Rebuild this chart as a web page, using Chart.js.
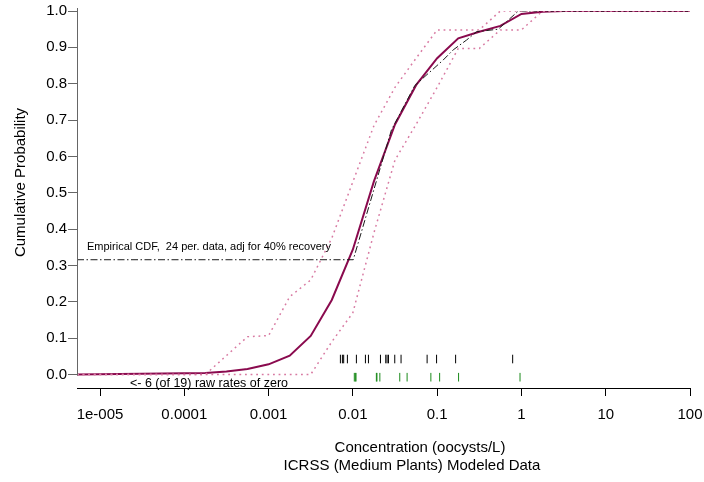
<!DOCTYPE html>
<html>
<head>
<meta charset="utf-8">
<script src="https://cdn.jsdelivr.net/npm/chart.js@4/dist/chart.umd.min.js"></script>
<style>
  body { margin: 0; background: #fff; }
  canvas { display: block; }
</style>
</head>
<body>
<canvas id="cdfChart" width="704" height="482"></canvas>
<script>
const FONT = '"Liberation Sans", Arial, Helvetica, sans-serif';

// concentration axis (oocysts/L)
const xMin = 5.33e-6;
const xMax = 100;
const xTicks = [1e-5, 1e-4, 1e-3, 1e-2, 1e-1, 1, 10, 100];
const xTickLabels = ['1e-005', '0.0001', '0.001', '0.01', '0.1', '1', '10', '100'];
const yTicks = [0, 0.1, 0.2, 0.3, 0.4, 0.5, 0.6, 0.7, 0.8, 0.9, 1.0];

// fitted CDF
const fitConc = [5.33e-6, 1.78e-4, 3.16e-4, 5.62e-4, 0.001, 0.00178, 0.00316, 0.00562, 0.01, 0.0178, 0.0316, 0.0562, 0.1, 0.178, 0.316, 0.562, 1, 1.78, 3.16, 100];
const fitProb = [0, 0.004, 0.008, 0.015, 0.028, 0.052, 0.106, 0.205, 0.344, 0.532, 0.688, 0.796, 0.87, 0.925, 0.943, 0.959, 0.992, 0.998, 1.0, 1.0];

// upper and lower bounds
const upperConc = [5.33e-6, 1.78e-4, 3.16e-4, 5.62e-4, 0.001, 0.00178, 0.00316, 0.00562, 0.01, 0.0178, 0.0316, 0.0562, 0.1, 0.178, 0.316, 0.562, 100];
const upperProb = [0, 0, 0.052, 0.104, 0.107, 0.214, 0.26, 0.375, 0.53, 0.685, 0.79, 0.87, 0.948, 0.948, 0.948, 1.0, 1.0];
const lowerConc = [5.33e-6, 0.00316, 0.00562, 0.01, 0.0178, 0.0316, 0.0562, 0.1, 0.178, 0.316, 0.562, 1, 1.78, 100];
const lowerProb = [0, 0, 0.09, 0.17, 0.39, 0.59, 0.688, 0.79, 0.897, 0.897, 0.948, 0.948, 1.0, 1.0];

// empirical CDF, 6 of 19 rates are zero
const zeroCount = 6;
const rateCount = 19;
const ecdfConc = [5.33e-6, 0.0101, 0.0287, 0.0543, 0.1178, 0.155, 0.223, 0.294, 0.531, 0.918, 100];
const ecdfProb = [zeroCount / rateCount, zeroCount / rateCount, 0.673, 0.795, 0.865, 0.893, 0.92, 0.943, 0.95, 1.0, 1.0];

// raw nonzero rates and recovery-adjusted rates
const rawRates = [0.00711, 0.00751, 0.00778, 0.00861, 0.01101, 0.01409, 0.0153, 0.02125, 0.02455, 0.02545, 0.02645, 0.0314, 0.0373, 0.076, 0.0984, 0.1656, 0.787];
const adjRates = [0.0104, 0.0107, 0.0109, 0.019, 0.0193, 0.0209, 0.036, 0.044, 0.0842, 0.107, 0.1795, 0.962];

const RAW_RUG_LEVEL = 0.0426;
const ADJ_RUG_LEVEL = -0.0074;

function pairs(xs, ys) {
    return xs.map((x, i) => ({ x: x, y: ys[i] }));
}

function rug(xs, level) {
    return xs.map(x => ({ x: x, y: level }));
}

const curveBase = { showLine: true, pointRadius: 0, pointHoverRadius: 0, tension: 0, fill: false };
const rugBase = { showLine: false, pointStyle: 'line', rotation: 90, pointRadius: 4.3, borderWidth: 1 };

const data = {
    datasets: [
        Object.assign({}, curveBase, {
            label: 'Upper',
            data: pairs(upperConc, upperProb),
            borderColor: '#d87aa2',
            borderWidth: 1.5,
            borderDash: [1.8, 3.8]
        }),
        Object.assign({}, curveBase, {
            label: 'Lower',
            data: pairs(lowerConc, lowerProb),
            borderColor: '#d87aa2',
            borderWidth: 1.5,
            borderDash: [1.8, 3.8]
        }),
        Object.assign({}, curveBase, {
            label: 'Empirical CDF',
            data: pairs(ecdfConc, ecdfProb),
            borderColor: '#1a1a1a',
            borderWidth: 1,
            borderDash: [7, 2.5, 1.5, 2.5]
        }),
        Object.assign({}, curveBase, {
            label: 'Fitted',
            data: pairs(fitConc, fitProb),
            borderColor: '#8a0a4e',
            borderWidth: 2
        }),
        Object.assign({}, rugBase, {
            label: 'Raw rates',
            data: rug(rawRates, RAW_RUG_LEVEL),
            borderColor: '#000'
        }),
        Object.assign({}, rugBase, {
            label: 'Adjusted rates',
            data: rug(adjRates, ADJ_RUG_LEVEL),
            borderColor: '#1a8a1a'
        })
    ]
};

// y axis line, notes and the axis titles
const decorations = {
    id: 'decorations',
    afterDraw(chart) {
        const ctx = chart.ctx;
        const area = chart.chartArea;
        const y = chart.scales.y;
        ctx.save();

        ctx.strokeStyle = '#666';
        ctx.lineWidth = 1;
        ctx.beginPath();
        ctx.moveTo(area.left + 0.5, y.getPixelForValue(1) - 3);
        ctx.lineTo(area.left + 0.5, y.getPixelForValue(0) + 1);
        ctx.stroke();

        ctx.fillStyle = '#000';
        ctx.font = '11px ' + FONT;
        ctx.textAlign = 'left';
        ctx.textBaseline = 'alphabetic';
        ctx.fillText('Empirical CDF,  24 per. data, adj for 40% recovery', area.left + 10, y.getPixelForValue(zeroCount / rateCount) - 10);
        ctx.font = '12.5px ' + FONT;
        ctx.fillText('<- 6 (of 19) raw rates of zero', area.left + 53, area.bottom - 1);

        ctx.font = '15px ' + FONT;
        ctx.textAlign = 'center';
        ctx.textBaseline = 'middle';
        ctx.fillText('Concentration (oocysts/L)', 420, 448);
        ctx.fillText('ICRSS (Medium Plants) Modeled Data', 412, 466);

        ctx.translate(20.5, 182.5);
        ctx.rotate(-Math.PI / 2);
        ctx.fillText('Cumulative Probability', 0, 0);
        ctx.restore();
    }
};

const config = {
    type: 'scatter',
    data: data,
    options: {
        responsive: false,
        devicePixelRatio: 1,
        animation: false,
        layout: {
            padding: { top: 11, right: 14, left: 0, bottom: 0 }
        },
        plugins: {
            legend: { display: false },
            tooltip: { enabled: false }
        },
        scales: {
            x: {
                type: 'logarithmic',
                position: 'bottom',
                min: xMin,
                max: xMax,
                afterBuildTicks: function (scale) {
                    scale.ticks = xTicks.map(v => ({ value: v }));
                },
                afterFit: function (scale) {
                    scale.height = 94;
                    scale.paddingLeft = 0;
                    scale.paddingRight = 0;
                },
                border: { display: true, color: '#000', width: 1 },
                grid: {
                    drawOnChartArea: false,
                    drawTicks: true,
                    tickLength: 8,
                    color: '#000'
                },
                ticks: {
                    autoSkip: false,
                    maxRotation: 0,
                    padding: 10,
                    color: '#000',
                    font: { family: FONT, size: 15 },
                    callback: function (value, index) {
                        return xTickLabels[index];
                    }
                }
            },
            y: {
                type: 'linear',
                min: -0.0371,
                max: 1.0,
                afterBuildTicks: function (scale) {
                    scale.ticks = yTicks.map(v => ({ value: v }));
                },
                afterFit: function (scale) {
                    scale.width = 77;
                    scale.paddingTop = 0;
                    scale.paddingBottom = 0;
                },
                border: { display: false },
                grid: {
                    drawOnChartArea: false,
                    drawTicks: true,
                    tickLength: 9,
                    color: '#666'
                },
                ticks: {
                    padding: 1,
                    color: '#000',
                    font: { family: FONT, size: 15 },
                    callback: function (value) {
                        return value.toFixed(1);
                    }
                }
            }
        }
    },
    plugins: [decorations]
};

new Chart(document.getElementById('cdfChart').getContext('2d'), config);
</script>
</body>
</html>
